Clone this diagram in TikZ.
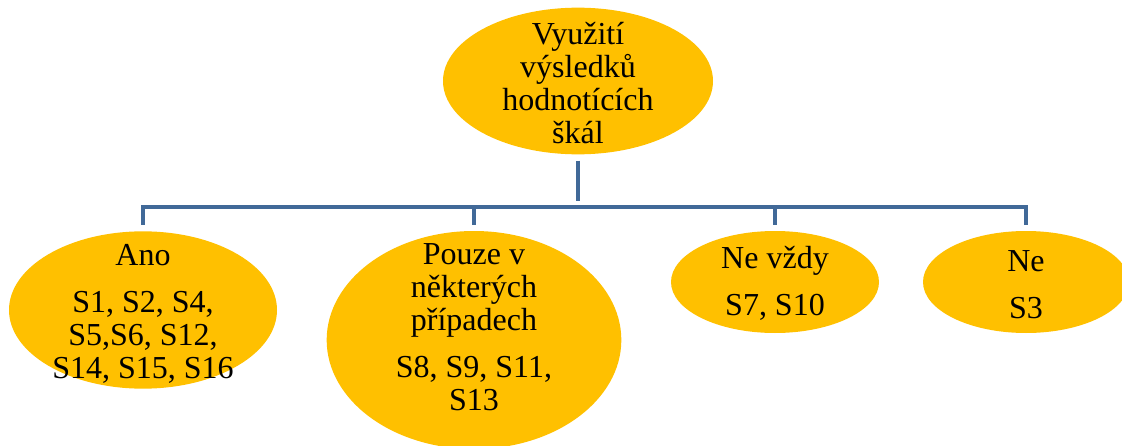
\documentclass[tikz,border=0pt]{standalone}
\usepackage{fontspec}
\setmainfont{Liberation Serif}
\usetikzlibrary{shapes.geometric}
\definecolor{gold}{RGB}{255,192,0}
\definecolor{linkblue}{RGB}{65,105,152}
\tikzset{
ellbox/.style={
	ellipse,
	fill=gold,
	draw=none,
	inner sep=0pt
},
txt/.style={
	align=center,
	inner sep=0pt,
	text=black,
	font=\fontsize{24}{24.75}\selectfont
},
link/.style={
	draw=linkblue,
	line width=3.6pt,
	shorten >=4.5pt
}
}

\begin{document}
\begin{tikzpicture}[x=0.75pt, y=-0.75pt]
\useasboundingbox (0,0) rectangle (1122,446);

% ellipses
\node (root)   [ellbox, minimum width=202.5pt, minimum height=110pt] at (578,81) {};
\node (ano)    [ellbox, minimum width=201pt, minimum height=118pt] at (143,310) {};
\node (pouze)  [ellbox, minimum width=221pt, minimum height=163.5pt] at (474,340) {};
\node (nevzdy) [ellbox, minimum width=156pt, minimum height=76.5pt] at (775,282) {};
\node (ne)     [ellbox, minimum width=154.5pt, minimum height=76.5pt] at (1026,282) {};

% texts
\node (rootTxt)   [txt] at (578,83) {Využití\\výsledků\\hodnotících\\škál};
\node (anoTxt)    [txt] at (143,314) {Ano\\[10.5pt]S1, S2, S4,\\S5,S6, S12,\\S14, S15, S16};
\node (pouzeTxt)  [txt] at (474,327) {Pouze v\\některých\\případech\\[10.5pt]S8, S9, S11,\\S13};
\node (nevzdyTxt) [txt] at (775,283) {Ne vždy\\[10.5pt]S7, S10};
\node (neTxt)     [txt] at (1026,285) {Ne\\[10.5pt]S3};

% connectors
\coordinate (bus) at (578,207);
\draw [link, shorten <=4.5pt] (root.south) -- (bus);
\foreach \n in {ano,pouze,nevzdy,ne}
	\draw [link] (bus) -| (\n.north);

\end{tikzpicture}
\end{document}
